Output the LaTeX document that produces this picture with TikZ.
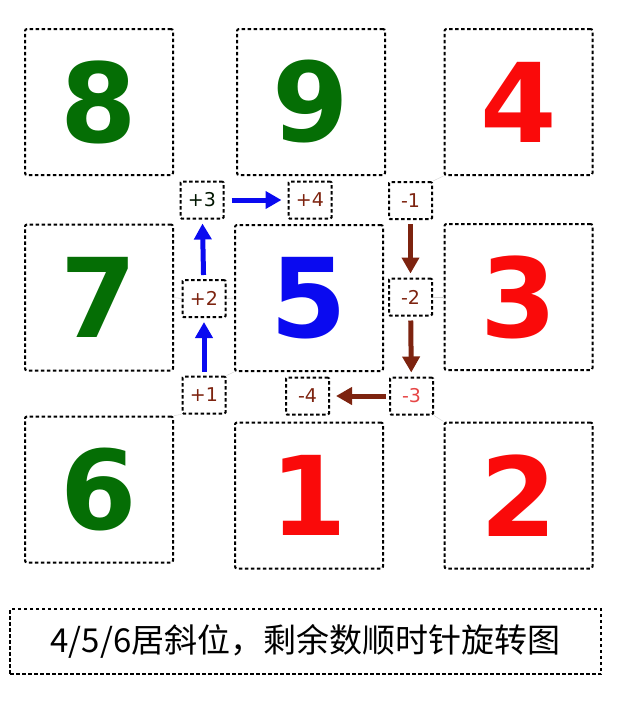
\documentclass[tikz,border=0pt]{standalone}
\usepackage{fontspec}
\setmainfont{DejaVu Sans}
\newfontfamily\cjkfont{Noto Sans CJK SC}
\usetikzlibrary{arrows.meta}
\definecolor{numgreen}{RGB}{5,110,5}
\definecolor{numred}{RGB}{250,10,10}
\definecolor{numblue}{RGB}{10,10,240}
\definecolor{stepbrown}{RGB}{125,35,15}
\definecolor{stepred}{RGB}{230,70,70}
\tikzset{
  cell/.style={draw,line width=2pt,dash pattern=on 3.5pt off 2.5pt,rounded corners=2pt,minimum width=148pt,minimum height=146pt,inner sep=0pt,font=\fontsize{110}{110}\selectfont\bfseries},
  tag/.style={draw,line width=2pt,dash pattern=on 3.5pt off 2.5pt,rounded corners=1pt,minimum width=43pt,minimum height=37pt,inner sep=0pt,font=\fontsize{19}{19}\selectfont,text=stepbrown},
  move/.style={line width=5pt,-{Triangle[length=16pt,width=17pt]},shorten <=4pt,shorten >=4pt},
  hint/.style={gray!35,thin}
}
\begin{document}
\begin{tikzpicture}[x=1pt,y=-1pt]
        \useasboundingbox (0,0) rectangle (630,702);
        % the nine cells
        \node[cell,text=numgreen] (c8) at (99,102) {8};
        \node[cell,text=numgreen] (c9) at (311,102) {9};
        \node[cell,text=numred] (c4) at (518.5,102) {4};
        \node[cell,text=numgreen] (c7) at (99,297.5) {7};
        \node[cell,text=numblue] (c5) at (309,298) {5};
        \node[cell,text=numred] (c3) at (518.5,297) {3};
        \node[cell,text=numgreen] (c6) at (99,489.5) {6};
        \node[cell,text=numred] (c1) at (309,495.5) {1};
        \node[cell,text=numred] (c2) at (518.5,495.5) {2};
        % steps
        \node[tag] (p1) at (204,395) {+1};
        \node[tag] (p2) at (204,298.5) {+2};
        \node[tag,text=black!80!numgreen] (p3) at (202,200) {+3};
        \node[tag] (p4) at (310,200) {+4};
        \node[tag] (m1) at (410.5,200.5) {-1};
        \node[tag] (m2) at (410.5,297) {-2};
        \node[tag,text=stepred] (m3) at (411.5,396) {-3};
        \node[tag] (m4) at (307.5,396) {-4};
        \draw[move,numblue] (p1) -- (p2);
        \draw[move,numblue] (p2) -- (p3);
        \draw[move,numblue,shorten <=7pt,shorten >=6pt] (p3) -- (p4);
        \draw[move,stepbrown] (m1) -- (m2);
        \draw[move,stepbrown] (m2) -- (m3);
        \draw[move,stepbrown,shorten <=3pt,shorten >=6pt] (m3) -- (m4);
        \draw[hint] (m1.north east) -- (c4.south west);
        \draw[hint] (p1.south west) -- (c6.north east);
        \draw[hint] (p1.north east) -- (c5.south west);
        \draw[hint] (m3.south east) -- (c2.north west);
        \draw[hint] (p2.west) -- (c7.east);
        \draw[hint] (p2.east) -- (c5.west);
        \draw[hint] (m2.east) -- (c3.west);
        % caption
        \node[draw,line width=2pt,dash pattern=on 3.5pt off 2.5pt,minimum width=591pt,minimum height=65pt,font=\cjkfont\fontsize{33}{33}\selectfont] (note) at (305.5,641.5) {4/5/6居斜位，剩余数顺时针旋转图};
    \end{tikzpicture}
\end{document}
